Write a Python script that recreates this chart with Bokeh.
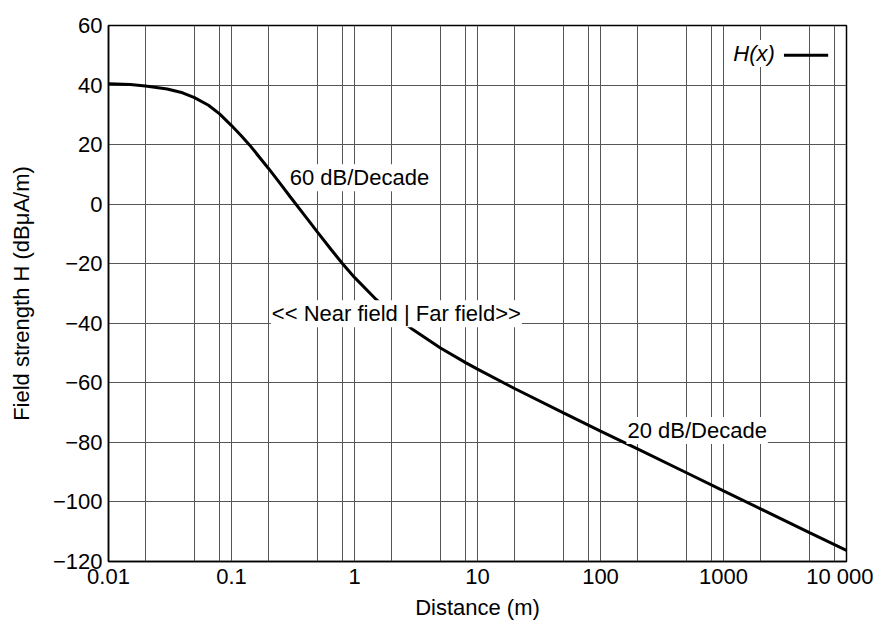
from bokeh.plotting import figure
from bokeh.models import Range1d, FixedTicker, Label
from bokeh.embed import file_html
from bokeh.resources import INLINE

# ---- data ----
distance = [0.01, 0.015, 0.02, 0.03, 0.04, 0.05, 0.065, 0.08, 0.1, 0.12, 0.14, 0.2,
            0.25, 0.3, 0.4, 0.5, 0.65, 0.8, 1, 1.5, 2, 3, 5, 8, 10, 20, 50, 100,
            200, 500, 1000, 2000, 5000, 10000]
field = [40.4, 40.15, 39.7, 38.7, 37.4, 35.8, 33.2, 30.3, 26.4, 23.0, 19.9, 12.0,
         6.8, 2.5, -4.2, -9.4, -15.4, -20.0, -24.6, -32.0, -36.6, -42.2, -48.3,
         -53.2, -55.4, -61.9, -70.1, -76.2, -82.2, -90.2, -96.3, -102.3, -110.3,
         -116.3]

x_major = [0.01, 0.1, 1, 10, 100, 1000, 10000]
x_labels = ["0.01", "0.1", "1", "10", "100", "1000", "10 000"]
x_minor_mult = [2, 5, 8]
y_ticks = [-120, -100, -80, -60, -40, -20, 0, 20, 40, 60]
y_labels = ["\u2212120", "\u2212100", "\u221280", "\u221260", "\u221240", "\u221220",
            "0", "20", "40", "60"]

x_minor = [m * d for d in x_major[:-1] for m in x_minor_mult]

FONT = "Liberation Sans"
FS = "22px"
GRID = "#555555"

p = figure(width=873, height=622, x_axis_type="log",
           x_range=Range1d(0.01, 10000), y_range=Range1d(-120, 60),
           output_backend="svg", toolbar_location=None,
           min_border_left=108, min_border_right=27, min_border_top=25,
           min_border_bottom=54)
p.background_fill_color = "white"
p.border_fill_color = "white"
p.outline_line_color = "black"
p.outline_line_width = 1.5

# axes
p.xaxis.ticker = FixedTicker(ticks=x_major, minor_ticks=x_minor)
p.xaxis.major_label_overrides = {v: s for v, s in zip(x_major, x_labels)}
p.yaxis.ticker = FixedTicker(ticks=y_ticks)
p.yaxis.major_label_overrides = {v: s for v, s in zip(y_ticks, y_labels)}

for ax in (p.xaxis[0], p.yaxis[0]):
    ax.major_tick_line_color = None
    ax.minor_tick_line_color = None
    ax.major_tick_out = 0
    ax.minor_tick_out = 0
    ax.axis_line_color = "black"
    ax.axis_line_width = 1.5
    ax.major_label_text_font = FONT
    ax.major_label_text_font_size = FS
    ax.major_label_text_color = "black"
    ax.axis_label_text_font = FONT
    ax.axis_label_text_font_size = FS
    ax.axis_label_text_font_style = "normal"
    ax.axis_label_text_color = "black"

p.xaxis.major_label_standoff = 2
p.xaxis.axis_label_standoff = 3
p.yaxis.major_label_standoff = 6
p.yaxis.axis_label_standoff = 16
p.xaxis.axis_label = "Distance (m)"
p.yaxis.axis_label = "Field strength H (dB\u03bcA/m)"

# grid
p.xgrid.grid_line_color = GRID
p.xgrid.minor_grid_line_color = GRID
p.xgrid.grid_line_width = 1
p.xgrid.minor_grid_line_width = 1
p.ygrid.grid_line_color = GRID
p.ygrid.grid_line_width = 1

# curve
p.line(distance, field, line_color="black", line_width=3)

# annotations
def lab(x, y, text, align="left", style="normal"):
    l = Label(x=x, y=y, text=text, text_font=FONT, text_font_size=FS,
              text_font_style=style, text_align=align, text_baseline="middle",
              text_color="black", background_fill_color="white", padding=1)
    p.add_layout(l)

lab(0.292, 8.9, "60 dB/Decade")
lab(2.19, -36.8, "<< Near field | Far field>>", align="center")
lab(162.6, -76, "20 dB/Decade")

# legend (text followed by line sample)
LEG_TEXT_X, LEG_Y = 1178, 50.6
LEG_LINE_X0, LEG_LINE_X1, LEG_LINE_Y = 3100, 7096, 50
lab(LEG_TEXT_X, LEG_Y, "H(x)", style="italic")
p.line([LEG_LINE_X0, LEG_LINE_X1], [LEG_LINE_Y, LEG_LINE_Y], line_color="black", line_width=3)

open("out.html", "w").write(file_html(p, INLINE))
